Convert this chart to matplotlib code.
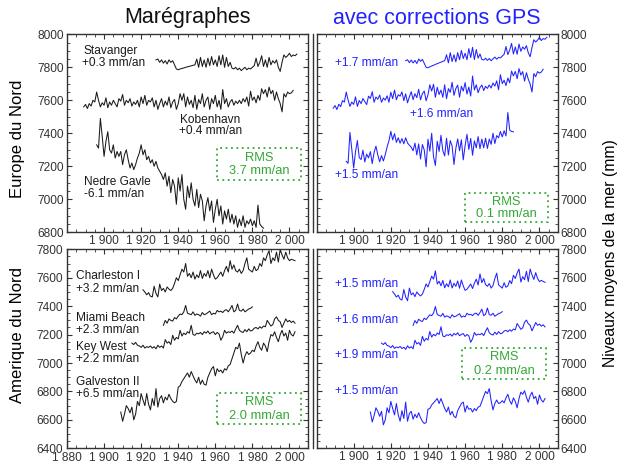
import numpy as np
import matplotlib.pyplot as plt
from matplotlib.lines import Line2D
from matplotlib.patches import Rectangle
from matplotlib.ticker import MultipleLocator, FixedLocator, FixedFormatter

plt.rcParams['font.family'] = ['Liberation Sans', 'DejaVu Sans']

# --- donnees (niveaux annuels, mm) ---
# Europe du Nord, maregraphes
stavanger_start = 1928
stavanger = [7845, 7850, 7830, 7845, 7825, 7840, 7820, 7845, 7830, 7840, 7815, 7790,
             7785, 7790, 7793, 7796, 7800, 7803, 7806, 7809, 7812, 7815,
             7850, 7800, 7860, 7805, 7845, 7800, 7855, 7810, 7865, 7815,
             7845, 7805, 7870, 7815, 7875, 7800, 7860, 7805, 7830, 7795,
             7790, 7800, 7785, 7795, 7780, 7790, 7800, 7785, 7795, 7790, 7800, 7810,
             7855, 7805, 7830, 7870, 7805, 7845, 7800, 7860, 7815, 7840, 7825, 7845, 7800, 7775,
             7830, 7875, 7860, 7870, 7885, 7865, 7875, 7870, 7880]
kobenhavn_start = 1889
kobenhavn = [7560, 7575, 7550, 7580, 7565, 7600, 7590, 7650, 7600, 7560, 7585, 7570,
             7615, 7555, 7590, 7570, 7600, 7580, 7560, 7610, 7595, 7635, 7570, 7600,
             7585, 7610, 7565, 7590, 7575, 7600, 7560, 7620, 7580, 7630, 7570, 7600,
             7590, 7615, 7560, 7600, 7545, 7580, 7610, 7560, 7595, 7570, 7620, 7555,
             7590, 7605, 7545, 7580, 7640, 7600, 7640, 7560, 7620, 7575, 7600, 7555,
             7630, 7545, 7605, 7580, 7640, 7560, 7600, 7620, 7545, 7610, 7580, 7630,
             7560, 7600, 7545, 7665, 7580, 7610, 7560, 7590, 7605, 7570, 7595, 7580,
             7600, 7580, 7610, 7590, 7620, 7565, 7655, 7600, 7620, 7585, 7630, 7600,
             7670, 7640, 7665, 7620, 7680, 7640, 7660, 7600, 7650, 7610, 7580, 7530,
             7640, 7620, 7650, 7640, 7645, 7660]
gavle_start = 1896
gavle = [7330, 7310, 7490, 7380, 7260, 7350, 7410, 7300, 7280, 7330, 7250, 7290,
         7260, 7290, 7210, 7270, 7300, 7240, 7190, 7220, 7180, 7210, 7250, 7280,
         7330, 7270, 7300, 7240, 7260, 7220, 7240, 7200, 7230, 7190, 7170, 7150,
         7120, 7160, 7080, 7140, 7040, 7120, 7080, 6970, 7130, 7050, 7150, 7000,
         6940, 7080, 7010, 7100, 7000, 6960, 7060, 6950, 7030, 6990, 6870, 6960,
         7010, 6930, 6990, 6860, 6940, 7000, 6900, 6960, 6850, 6930, 6880, 6940,
         6860, 6910, 6850, 6900, 6830, 6880, 6840, 6900, 6830, 6870, 6850, 6880,
         6840, 6870, 6830, 6965, 6850, 6835, 6825]

# Europe du Nord, avec corrections GPS
stavanger_gps = [7840, 7846, 7828, 7844, 7826, 7842, 7823, 7850, 7836, 7848, 7824, 7800,
                 7797, 7803, 7808, 7812, 7818, 7822, 7827, 7831, 7836, 7840,
                 7876, 7827, 7889, 7835, 7876, 7833, 7889, 7846, 7902, 7853,
                 7885, 7846, 7913, 7859, 7921, 7847, 7908, 7855, 7881, 7848,
                 7844, 7855, 7842, 7853, 7840, 7851, 7862, 7849, 7860, 7857, 7868, 7879,
                 7926, 7877, 7904, 7945, 7881, 7923, 7879, 7941, 7897, 7923, 7910, 7931, 7888, 7864,
                 7920, 7967, 7953, 7965, 7981, 7962, 7974, 7970, 7982]
kobenhavn_gps = [7552, 7568, 7544, 7576, 7562, 7598, 7589, 7650, 7602, 7563, 7589, 7575,
                 7621, 7563, 7599, 7580, 7611, 7592, 7574, 7625, 7611, 7652, 7588, 7620,
                 7606, 7632, 7588, 7614, 7601, 7627, 7588, 7649, 7610, 7662, 7603, 7634,
                 7625, 7651, 7598, 7639, 7585, 7621, 7652, 7604, 7640, 7616, 7667, 7603,
                 7640, 7656, 7597, 7633, 7694, 7656, 7697, 7618, 7679, 7635, 7662, 7618,
                 7694, 7610, 7671, 7648, 7709, 7630, 7671, 7692, 7619, 7685, 7656, 7707,
                 7638, 7680, 7626, 7747, 7663, 7694, 7646, 7677, 7693, 7659, 7685, 7672,
                 7693, 7674, 7705, 7686, 7718, 7664, 7755, 7701, 7722, 7689, 7735, 7706,
                 7777, 7748, 7775, 7731, 7792, 7753, 7774, 7716, 7767, 7728, 7699, 7650,
                 7762, 7743, 7774, 7765, 7771, 7788]
gavle_gps = [7230, 7218, 7405, 7303, 7190, 7288, 7356, 7253, 7241, 7298, 7226, 7274,
             7251, 7289, 7216, 7284, 7322, 7269, 7227, 7265, 7232, 7270, 7317, 7355,
             7412, 7360, 7398, 7345, 7373, 7340, 7368, 7336, 7373, 7341, 7328, 7316,
             7294, 7341, 7269, 7336, 7244, 7332, 7299, 7197, 7364, 7292, 7400, 7257,
             7205, 7352, 7290, 7388, 7295, 7263, 7370, 7268, 7356, 7323, 7211, 7308,
             7366, 7294, 7361, 7239, 7326, 7394, 7302, 7369, 7267, 7354, 7312, 7380,
             7307, 7365, 7312, 7370, 7308, 7365, 7333, 7400, 7338, 7386, 7373, 7411,
             7378, 7416, 7384, 7526, 7419, 7411, 7409]

# Amerique du Nord, maregraphes
charleston_start = 1921
charleston = [7515, 7500, 7480, 7495, 7470, 7465, 7540, 7490, 7465, 7555, 7510, 7525,
              7500, 7535, 7520, 7510, 7525, 7560, 7600, 7580, 7620, 7660, 7640, 7700,
              7610, 7630, 7600, 7640, 7590, 7620, 7600, 7650, 7595, 7630, 7610, 7650,
              7600, 7660, 7620, 7590, 7600, 7620, 7640, 7610, 7650, 7680, 7640, 7720,
              7660, 7690, 7650, 7640, 7660, 7630, 7650, 7700, 7740, 7660, 7650, 7640,
              7680, 7650, 7660, 7700, 7680, 7740, 7720, 7760, 7790, 7700, 7740, 7720,
              7780, 7710, 7800, 7760, 7730, 7780, 7740, 7720, 7730, 7725, 7720]
miami_start = 1932
miami = [7265, 7300, 7280, 7310, 7300, 7295, 7320, 7310, 7330, 7345, 7340, 7360,
         7405, 7350, 7345, 7340, 7360, 7335, 7345, 7340, 7330, 7355, 7340, 7345,
         7355, 7365, 7340, 7350, 7345, 7370, 7360, 7365, 7355, 7370, 7375, 7360,
         7380, 7405, 7360, 7370, 7415, 7370, 7365, 7380, 7360, 7370, 7380, 7385, 7395]
keywest_start = 1915
keywest = [7140, 7130, 7145, 7125, 7120, 7110, 7125, 7105, 7115, 7110, 7120, 7105,
           7115, 7100, 7125, 7110, 7120, 7105, 7165, 7140, 7150, 7130, 7195, 7160,
           7180, 7170, 7230, 7190, 7210, 7200, 7220, 7210, 7265, 7200, 7195, 7210,
           7205, 7215, 7200, 7220, 7210, 7225, 7205, 7215, 7220, 7200, 7215, 7205,
           7160, 7185, 7230, 7210, 7220, 7215, 7225, 7210, 7240, 7265, 7230, 7220,
           7215, 7235, 7220, 7240, 7225, 7230, 7245, 7250, 7240, 7255, 7245, 7260,
           7255, 7300, 7280, 7260, 7270, 7310, 7325, 7300, 7290, 7250, 7280, 7310,
           7290, 7300, 7285, 7295, 7280]
galveston_start = 1909
galveston = [6655, 6590, 6640, 6700, 6680, 6650, 6690, 6600, 6640, 6730, 6700, 6785,
             6740, 6700, 6785, 6710, 6670, 6750, 6700, 6820, 6690, 6750, 6770, 6720,
             6760, 6740, 6780, 6750, 6730, 6720, 6730, 6830, 6840, 6870, 6890, 6910,
             6930, 6900, 6940, 6910, 6880, 6860, 6900, 6850, 6880, 6850, 6845, 6900,
             6930, 6960, 6975, 6910, 6960, 6940, 6950, 6930, 6960, 6950, 6980, 6990,
             7030, 7070, 7110, 7100, 7140, 7060, 7000, 7050, 7080, 7060, 7070, 7090,
             7080, 7120, 7150, 7110, 7090, 7140, 7120, 7080, 7150, 7200, 7190, 7220,
             7180, 7150, 7200, 7230, 7190, 7210, 7160, 7230, 7200, 7190, 7220]

# Amerique du Nord, avec corrections GPS
charleston_gps = [7502, 7485, 7464, 7477, 7450, 7443, 7517, 7465, 7438, 7527, 7480, 7493,
                  7467, 7500, 7483, 7472, 7485, 7518, 7556, 7535, 7573, 7611, 7590, 7648,
                  7556, 7575, 7543, 7581, 7529, 7558, 7536, 7584, 7528, 7561, 7539, 7577,
                  7526, 7584, 7542, 7511, 7519, 7537, 7556, 7524, 7562, 7590, 7549, 7627,
                  7565, 7594, 7552, 7540, 7559, 7527, 7545, 7594, 7632, 7550, 7538, 7527,
                  7565, 7533, 7542, 7580, 7558, 7617, 7595, 7633, 7661, 7570, 7608, 7586,
                  7645, 7573, 7661, 7620, 7588, 7636, 7595, 7573, 7581, 7574, 7568]
miami_gps = [7265, 7299, 7279, 7308, 7297, 7292, 7316, 7305, 7324, 7339, 7333, 7352,
             7397, 7341, 7335, 7329, 7349, 7323, 7332, 7327, 7316, 7340, 7325, 7329,
             7338, 7347, 7322, 7331, 7325, 7350, 7339, 7343, 7333, 7347, 7351, 7335,
             7355, 7379, 7333, 7343, 7387, 7341, 7336, 7350, 7329, 7338, 7348, 7352, 7361]
keywest_gps = [7140, 7130, 7144, 7124, 7119, 7108, 7123, 7103, 7113, 7107, 7117, 7102,
               7111, 7096, 7121, 7105, 7115, 7100, 7160, 7134, 7144, 7124, 7188, 7153,
               7173, 7162, 7222, 7182, 7202, 7191, 7211, 7201, 7255, 7190, 7185, 7199,
               7194, 7204, 7189, 7208, 7198, 7213, 7192, 7202, 7207, 7187, 7201, 7191,
               7146, 7170, 7215, 7195, 7204, 7199, 7209, 7193, 7223, 7248, 7213, 7202,
               7197, 7217, 7201, 7221, 7206, 7210, 7225, 7230, 7220, 7234, 7224, 7239,
               7233, 7278, 7258, 7237, 7247, 7287, 7302, 7276, 7266, 7226, 7255, 7285,
               7265, 7274, 7259, 7269, 7254]
galveston_gps = [6655, 6585, 6630, 6685, 6660, 6625, 6660, 6565, 6600, 6685, 6650, 6730,
                 6680, 6635, 6715, 6635, 6590, 6665, 6610, 6725, 6590, 6645, 6660, 6605,
                 6640, 6615, 6650, 6615, 6590, 6575, 6580, 6675, 6680, 6705, 6720, 6735,
                 6750, 6715, 6750, 6715, 6680, 6655, 6690, 6635, 6660, 6625, 6615, 6665,
                 6690, 6715, 6725, 6655, 6700, 6675, 6680, 6655, 6680, 6665, 6690, 6695,
                 6730, 6765, 6800, 6785, 6820, 6735, 6670, 6715, 6740, 6715, 6720, 6735,
                 6720, 6755, 6780, 6735, 6710, 6755, 6730, 6685, 6750, 6795, 6780, 6805,
                 6760, 6725, 6770, 6795, 6750, 6765, 6710, 6775, 6740, 6725, 6750]

x_ticks = [1880, 1900, 1920, 1940, 1960, 1980, 2000]
x_labels = ['1 880', '1 900', '1 920', '1 940', '1 960', '1 980', '2 000']

W, H = 621, 463
NOIR = '#1a1a1a'
BLEU = '#2222ff'
VERT = '#33a833'


def boite(x0, y0, x1, y1):
    # pixels -> fraction de figure
    return [x0 / W, 1 - y1 / H, (x1 - x0) / W, (y1 - y0) / H]


def serie(ax, debut, valeurs, couleur):
    annees = np.arange(debut, debut + len(valeurs))
    ax.plot(annees, valeurs, color=couleur, lw=0.75)


def axes_style(ax, ylim, labels_droite=False, label_1880=False):
    ax.set_xlim(1880, 2010)
    ax.set_ylim(*ylim)
    ax.yaxis.set_major_locator(MultipleLocator(200))
    ax.yaxis.set_minor_locator(MultipleLocator(50))
    if label_1880:
        ax.xaxis.set_major_locator(FixedLocator(x_ticks))
        ax.xaxis.set_major_formatter(FixedFormatter(x_labels))
    else:
        ax.xaxis.set_major_locator(FixedLocator(x_ticks[1:]))
        ax.xaxis.set_major_formatter(FixedFormatter(x_labels[1:]))
    ax.xaxis.set_minor_locator(MultipleLocator(5))
    ax.tick_params(which='both', direction='in', top=True, right=True,
                   left=True, bottom=True, colors='#333333', labelcolor='#333333')
    ax.tick_params(which='major', length=3.5, width=0.8, labelsize=8.6, pad=2)
    ax.tick_params(which='minor', length=2, width=0.6)
    if labels_droite:
        ax.tick_params(axis='y', labelleft=False, labelright=True, pad=1.5)
    for s in ax.spines.values():
        s.set_color('#333333')
        s.set_linewidth(1.0)


def texte(x, y, s, **kw):
    fig.text(x / W, 1 - y / H, s, **kw)


def cadre_rms(x0, y0, x1, y1, valeur):
    fig.add_artist(Rectangle((x0 / W, 1 - y1 / H), (x1 - x0) / W, (y1 - y0) / H,
                             transform=fig.transFigure, fill=False, ec=VERT,
                             lw=1.3, ls=(0, (1, 2))))
    xc = (x0 + x1) / 2
    h = y1 - y0
    texte(xc, y0 + h * 0.3, 'RMS', color=VERT, fontsize=9.3, ha='center', va='center')
    texte(xc, y0 + h * 0.73, valeur, color=VERT, fontsize=9.3, ha='center', va='center')


fig = plt.figure(figsize=(6.21, 4.63), dpi=100)

ax1 = fig.add_axes(boite(67, 34.3, 308, 232.3))
ax2 = fig.add_axes(boite(316.5, 34.3, 558, 232.3))
ax3 = fig.add_axes(boite(67, 249.3, 308, 448.3))
ax4 = fig.add_axes(boite(316.5, 249.3, 558, 448.3))

serie(ax1, stavanger_start, stavanger, NOIR)
serie(ax1, kobenhavn_start, kobenhavn, NOIR)
serie(ax1, gavle_start, gavle, NOIR)
serie(ax2, stavanger_start, stavanger_gps, BLEU)
serie(ax2, kobenhavn_start, kobenhavn_gps, BLEU)
serie(ax2, gavle_start, gavle_gps, BLEU)
serie(ax3, charleston_start, charleston, NOIR)
serie(ax3, miami_start, miami, NOIR)
serie(ax3, keywest_start, keywest, NOIR)
serie(ax3, galveston_start, galveston, NOIR)
serie(ax4, charleston_start, charleston_gps, BLEU)
serie(ax4, miami_start, miami_gps, BLEU)
serie(ax4, keywest_start, keywest_gps, BLEU)
serie(ax4, galveston_start, galveston_gps, BLEU)

axes_style(ax1, (6800, 8000))
axes_style(ax2, (6800, 8000), labels_droite=True)
axes_style(ax3, (6400, 7800), label_1880=True)
axes_style(ax4, (6400, 7800), labels_droite=True)
ax3.tick_params(axis='x', which='major', pad=3)
ax3.tick_params(axis='y', which='major', pad=3)

# double trait entre les colonnes
for (ya, yb) in [(34.3, 232.3), (249.3, 448.3)]:
    fig.add_artist(Line2D([312.5 / W, 312.5 / W], [1 - ya / H, 1 - yb / H],
                          transform=fig.transFigure, color='#333333', lw=1.0))

# titres
texte(187, 18, 'Marégraphes', fontsize=15.5, ha='center', va='center', color='#111111')
texte(437, 18, 'avec corrections GPS', fontsize=15.5, ha='center', va='center', color=BLEU)
texte(18, 139, 'Europe du Nord', fontsize=12, rotation=90, ha='center', va='center')
texte(18, 335, 'Amerique du Nord', fontsize=12, rotation=90, ha='center', va='center')
texte(611, 253, 'Niveaux moyens de la mer (mm)', fontsize=11.3, rotation=90,
      ha='center', va='center')

fs = 8.6
# haut gauche
texte(84, 51, 'Stavanger', fontsize=fs, va='center', color=NOIR)
texte(82, 63, '+0.3 mm/an', fontsize=fs, va='center', color=NOIR)
texte(180, 120, 'Kobenhavn', fontsize=fs, va='center', color=NOIR)
texte(179, 131, '+0.4 mm/an', fontsize=fs, va='center', color=NOIR)
texte(84, 182, 'Nedre Gavle', fontsize=fs, va='center', color=NOIR)
texte(84, 194, '-6.1 mm/an', fontsize=fs, va='center', color=NOIR)
cadre_rms(217, 148, 301, 180, '3.7 mm/an')

# haut droite
texte(335, 63, '+1.7 mm/an', fontsize=fs, va='center', color=BLEU)
texte(410, 114, '+1.6 mm/an', fontsize=fs, va='center', color=BLEU)
texte(335, 175, '+1.5 mm/an', fontsize=fs, va='center', color=BLEU)
cadre_rms(465, 193, 548, 222, '0.1 mm/an')

# bas gauche
texte(76, 276, 'Charleston I', fontsize=fs, va='center', color=NOIR)
texte(76, 289, '+3.2 mm/an', fontsize=fs, va='center', color=NOIR)
texte(76, 318, 'Miami Beach', fontsize=fs, va='center', color=NOIR)
texte(76, 330, '+2.3 mm/an', fontsize=fs, va='center', color=NOIR)
texte(76, 347, 'Key West', fontsize=fs, va='center', color=NOIR)
texte(76, 359, '+2.2 mm/an', fontsize=fs, va='center', color=NOIR)
texte(76, 382, 'Galveston II', fontsize=fs, va='center', color=NOIR)
texte(76, 394, '+6.5 mm/an', fontsize=fs, va='center', color=NOIR)
cadre_rms(217, 393, 301, 424, '2.0 mm/an')

# bas droite
texte(335, 284, '+1.5 mm/an', fontsize=fs, va='center', color=BLEU)
texte(335, 320, '+1.6 mm/an', fontsize=fs, va='center', color=BLEU)
texte(335, 355, '+1.9 mm/an', fontsize=fs, va='center', color=BLEU)
texte(335, 391, '+1.5 mm/an', fontsize=fs, va='center', color=BLEU)
cadre_rms(462, 348, 546, 379, '0.2 mm/an')

fig.savefig('out.png', dpi=100)
